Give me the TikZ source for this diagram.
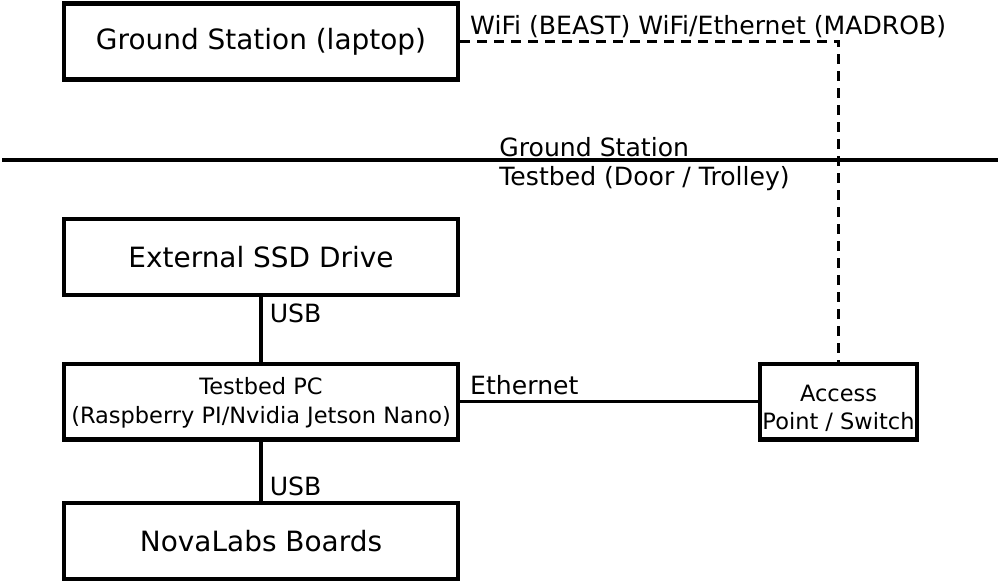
\documentclass[tikz,border=0pt]{standalone}
\usepackage{fontspec}
\setmainfont{DejaVu Sans}
\usetikzlibrary{positioning}

\begin{document}
\begin{tikzpicture}[x=0.02cm, y=-0.02cm]
        \tikzset{
            blk/.style={
                draw,
                line width=2.3pt,
                minimum width=#1,
                minimum height=1.52cm,
                inner sep=0pt,
                align=center,
                font=\fontsize{15.9}{19}\selectfont
            },
            blk/.default=7.9cm,
            small/.style={
                font=\fontsize{12.8}{16.4}\selectfont
            },
            lbl/.style={
                inner sep=0pt,
                font=\fontsize{14.3}{17}\selectfont
            },
            wire/.style={
                line width=2pt
            },
            radio/.style={
                line width=2pt,
                dash pattern=on 0.2cm off 0.14cm
            }
        }
        \useasboundingbox (0,0) rectangle (1000,583);

        % CAIXAS
        \node[blk] (gs) at (261,41.5) {Ground Station (laptop)};
        \node[blk] (ssd) at (261,257) {External SSD Drive};
        \node[blk, small] (pc) at (261,401.5) {\rule{0pt}{10.9pt}Testbed PC\\(Raspberry PI/Nvidia Jetson Nano)};
        \node[blk=3.13cm, font=\fontsize{12.8}{15.6}\selectfont] (ap) at (838.5,401.5) {\rule{0pt}{17pt}Access\\Point / Switch};

        \node[blk] (nova) at (261,541) {NovaLabs Boards};

        % DIVISAO
        \coordinate (esq) at (2,160);
        \coordinate (dir) at (998,160);
        \draw[wire] (esq) -- (dir);
        \node[lbl, anchor=base west] (gslbl) at (499,156) {Ground Station};
        \node[lbl, anchor=base west] (tblbl) at (499,185) {Testbed (Door / Trolley)};

        % LIGACOES
        \draw[radio] (gs.east) -| node[pos=0, lbl, anchor=south west, xshift=0.16cm, yshift=0.03cm] {WiFi (BEAST) WiFi/Ethernet (MADROB)} (ap.north);
        \draw[wire] (ssd.south) -- node[pos=0, lbl, anchor=north west, xshift=0.14cm, yshift=-0.1cm] {USB} (pc.north);
        \draw[wire] (pc.south) -- node[pos=1, lbl, anchor=south west, xshift=0.14cm, yshift=0.06cm] {USB} (nova.north);
        \draw[wire] (pc.east) -- node[pos=0, lbl, anchor=south west, xshift=0.16cm, yshift=0.09cm] {Ethernet} (ap.west);

    \end{tikzpicture}
\end{document}
